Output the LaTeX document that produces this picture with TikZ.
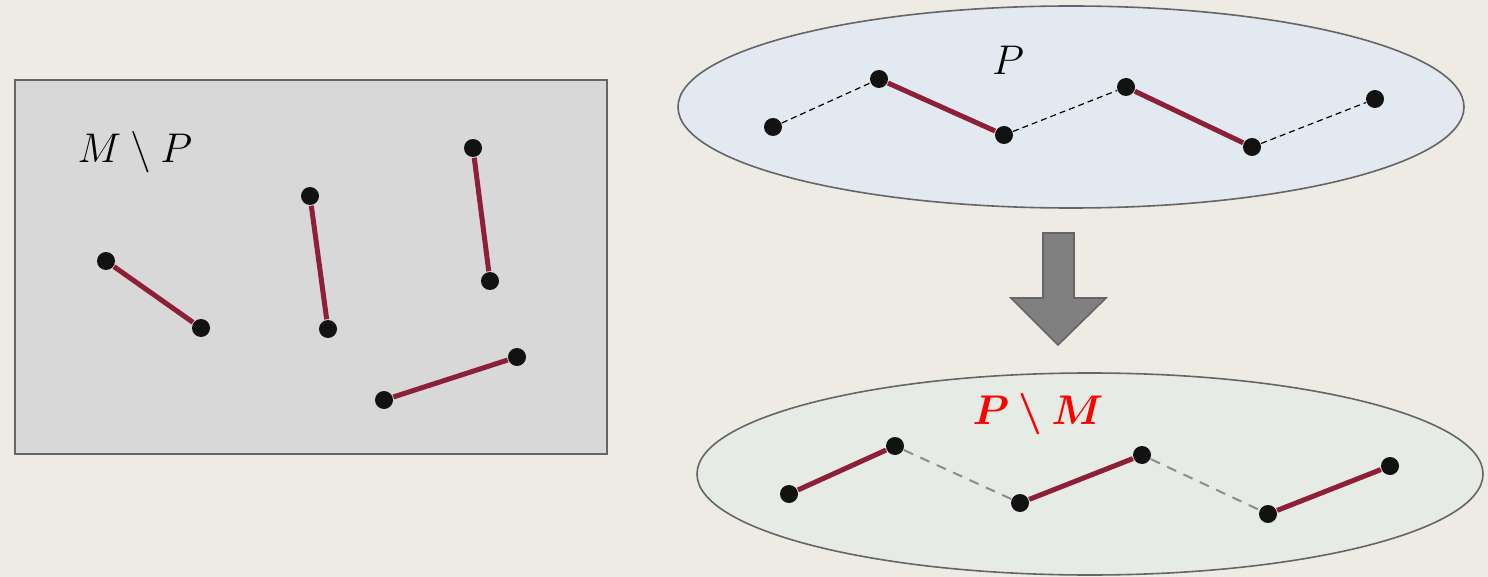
\documentclass[tikz,border=0pt]{standalone}
\usepackage{bm}
\usetikzlibrary{arrows.meta, shapes.geometric, positioning, calc}

\definecolor{bgbeige}{HTML}{EEEBE4}
\definecolor{boxgray}{HTML}{D8D8D8}
\definecolor{edgegray}{HTML}{656565}
\definecolor{topfill}{HTML}{E2E9F0}
\definecolor{botfill}{HTML}{E6ECE5}
\definecolor{matchred}{HTML}{8E1F38}

\tikzset{
  dot/.style={circle, fill=black!93, inner sep=0pt, minimum size=9pt},
  matched/.style={draw=matchred, line width=2.5pt},
  free/.style={draw=black, line width=0.6pt, dash pattern=on 3pt off 2pt},
  freegray/.style={draw=black!45, line width=1pt, dash pattern=on 5pt off 4pt},
  setlabel/.style={font=\fontsize{20}{24}\selectfont},
}

\begin{document}
\begin{tikzpicture}[
    % pixel-like units, y pointing down
    x=0.5pt, y=-0.5pt,
    line width=0.8pt,
  ]
    % --- background ---
    \fill[bgbeige] (0,0) rectangle (1488,577);
    \useasboundingbox (0,0) rectangle (1488,577);

    % --- M \ P box ---
    \filldraw[fill=boxgray, draw=edgegray] (15,80) rectangle (607,454);
    \node[setlabel] (mlabel) at (135,152) {$M \setminus P$};

    \node[dot] (m1) at (106,261) {};
    \node[dot] (m2) at (201,328) {};
    \node[dot] (m3) at (310,196) {};
    \node[dot] (m4) at (328,329) {};
    \node[dot] (m5) at (473,148) {};
    \node[dot] (m6) at (490,281) {};
    \node[dot] (m7) at (384,400) {};
    \node[dot] (m8) at (517,357) {};
    \draw[matched] (m1) -- (m2);
    \draw[matched] (m3) -- (m4);
    \draw[matched] (m5) -- (m6);
    \draw[matched] (m7) -- (m8);

    % --- path P ---
    \filldraw[fill=topfill, draw=edgegray] (1071,107) ellipse [x radius=393, y radius=101];
    \node[setlabel] (plabel) at (1008,60) {$P$};

    \node[dot] (p1) at (773,127) {};
    \node[dot] (p2) at (879,79) {};
    \node[dot] (p3) at (1004,135) {};
    \node[dot] (p4) at (1126,87) {};
    \node[dot] (p5) at (1252,147) {};
    \node[dot] (p6) at (1375,99) {};
    \draw[free] (p1) -- (p2);
    \draw[matched] (p2) -- (p3);
    \draw[free] (p3) -- (p4);
    \draw[matched] (p4) -- (p5);
    \draw[free] (p5) -- (p6);

    % --- block arrow ---
    \filldraw[fill=black!50, draw=edgegray]
      (1043,233) -- (1074,233) -- (1074,298) -- (1106,298)
      -- (1058,345) -- (1011,298) -- (1043,298) -- cycle;

    % --- P \ M ---
    \filldraw[fill=botfill, draw=edgegray] (1090,474) ellipse [x radius=393, y radius=101];
    \node[setlabel, text=red] (diff) at (1038,414) {$\bm{P \setminus M}$};

    \node[dot] (q1) at (789,494) {};
    \node[dot] (q2) at (895,446) {};
    \node[dot] (q3) at (1020,503) {};
    \node[dot] (q4) at (1142,455) {};
    \node[dot] (q5) at (1268,514) {};
    \node[dot] (q6) at (1390,466) {};
    \draw[matched] (q1) -- (q2);
    \draw[freegray] (q2) -- (q3);
    \draw[matched] (q3) -- (q4);
    \draw[freegray] (q4) -- (q5);
    \draw[matched] (q5) -- (q6);
  \end{tikzpicture}
\end{document}
